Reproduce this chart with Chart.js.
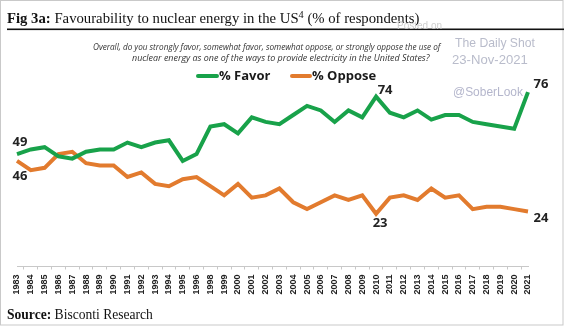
<!DOCTYPE html>
<html>
<head>
<meta charset="utf-8">
<script src="https://cdn.jsdelivr.net/npm/chart.js@4"></script>
<style>
  html, body { margin: 0; padding: 0; background: #fff; }
  canvas { display: block; }
</style>
</head>
<body>
<canvas id="chart" width="564" height="326"></canvas>
<script>
// Survey years (1997 is not in the series)
const years = ['1983', '1984', '1985', '1986', '1987', '1988', '1989', '1990', '1991', '1992',
  '1993', '1994', '1995', '1996', '1998', '1999', '2000', '2001', '2002', '2003', '2004',
  '2005', '2006', '2007', '2008', '2009', '2010', '2011', '2012', '2013', '2014', '2015',
  '2016', '2017', '2018', '2019', '2020', '2021'];

const favor = [49, 51, 52, 48, 47, 50, 51, 51, 54, 52, 54, 55, 46, 49, 61, 62, 58, 65, 63, 62,
  66, 70, 68, 63, 68, 65, 74, 67, 65, 68, 64, 66, 66, 63, 62, 61, 60, 76];

const oppose = [46, 42, 43, 49, 50, 45, 44, 44, 39, 41, 36, 35, 38, 39, 35, 31, 36, 30, 31, 34,
  28, 25, 28, 31, 29, 31, 23, 30, 31, 29, 34, 30, 31, 25, 26, 26, 25, 24];

// which points get a value label: [dataset, index, dx, dy]
const labelled = [
  [0, 0, 3, -12], [1, 0, 3, 15], [0, 26, 9, -6], [1, 26, 4, 10],
  [0, 37, 13, -8], [1, 37, 13, 7]
];

const GREEN = '#18A24A';
const ORANGE = '#E27B2E';

// draw text squeezed/stretched to a width by picking the font size
function fitText(ctx, parts, x, y, width, baseSize, family) {
  let total = 0;
  parts.forEach(p => {
    ctx.font = `${p.style || ''} ${p.weight || 'normal'} ${baseSize * (p.scale || 1)}px ${family}`;
    total += ctx.measureText(p.text).width;
  });
  const size = baseSize * width / total;
  let cx = x;
  parts.forEach(p => {
    ctx.font = `${p.style || ''} ${p.weight || 'normal'} ${size * (p.scale || 1)}px ${family}`;
    ctx.fillText(p.text, cx, y + (p.dy || 0) * size);
    cx += ctx.measureText(p.text).width;
  });
}

const decorations = {
  id: 'decorations',
  afterDraw(chart) {
    const ctx = chart.ctx;
    ctx.save();

    // frame
    ctx.strokeStyle = '#c9c9c9';
    ctx.lineWidth = 1;
    ctx.strokeRect(0.5, 0.5, 562.5, 324.5);

    // title + rule
    ctx.fillStyle = '#111';
    ctx.textBaseline = 'alphabetic';
    ctx.textAlign = 'left';
    fitText(ctx, [
      { text: 'Fig 3a:', weight: 'bold' },
      { text: ' Favourability to nuclear energy in the US' },
      { text: '4', scale: 0.7, dy: -0.35 },
      { text: ' (% of respondents)' }
    ], 7, 23, 413, 16, '"Liberation Serif", serif');
    ctx.fillRect(7, 28.5, 557, 1.6);

    // question text
    ctx.fillStyle = '#333';
    fitText(ctx, [{ text: 'Overall, do you strongly favor, somewhat favor, somewhat oppose, or strongly oppose the use of', style: 'italic' }],
      93, 50, 348, 8, '"Open Sans", sans-serif');
    fitText(ctx, [{ text: 'nuclear energy as one of the ways to provide electricity in the United States?', style: 'italic' }],
      132, 61, 298, 8, '"Open Sans", sans-serif');

    // legend
    ctx.lineWidth = 4;
    ctx.lineCap = 'round';
    [[198, 217, GREEN, '% Favor', 219], [292, 310, ORANGE, '% Oppose', 312]].forEach(([x0, x1, c, t, tx]) => {
      ctx.strokeStyle = c;
      ctx.beginPath();
      ctx.moveTo(x0, 76);
      ctx.lineTo(x1, 76);
      ctx.stroke();
      ctx.fillStyle = '#1a1a1a';
      ctx.font = 'bold 13px "Open Sans", sans-serif';
      ctx.textBaseline = 'middle';
      ctx.fillText(t, tx, 76);
    });

    // value labels at the chosen points
    ctx.font = 'bold 13px "Open Sans", sans-serif';
    ctx.fillStyle = '#222';
    ctx.textAlign = 'center';
    ctx.textBaseline = 'middle';
    labelled.forEach(([ds, i, dx, dy]) => {
      const pt = chart.getDatasetMeta(ds).data[i];
      const v = chart.data.datasets[ds].data[i];
      ctx.fillText(String(v), pt.x + dx, pt.y + dy);
    });

    // source
    ctx.textAlign = 'left';
    ctx.textBaseline = 'alphabetic';
    ctx.fillStyle = '#111';
    fitText(ctx, [
      { text: 'Source:', weight: 'bold' },
      { text: ' Bisconti Research' }
    ], 7, 319, 146, 13, '"Liberation Serif", serif');

    // watermark
    ctx.fillStyle = '#d0d0d0';
    ctx.font = '10px "Liberation Sans", sans-serif';
    ctx.fillText('Posted on', 397, 29);
    ctx.fillStyle = '#b9bccb';
    fitText(ctx, [{ text: 'The Daily Shot' }], 455, 47, 80, 13, '"Liberation Sans", sans-serif');
    fitText(ctx, [{ text: '23-Nov-2021' }], 452, 64, 76, 11, '"Liberation Sans", sans-serif');
    ctx.fillStyle = '#b4b6cc';
    fitText(ctx, [{ text: '@SoberLook' }], 453, 96, 70, 15, '"Liberation Sans", sans-serif');

    ctx.restore();
  }
};

new Chart(document.getElementById('chart').getContext('2d'), {
  type: 'line',
  data: {
    labels: years,
    datasets: [
      {
        label: '% Favor',
        data: favor,
        borderColor: GREEN,
        backgroundColor: GREEN,
        borderWidth: 4,
        pointRadius: 0,
        tension: 0
      },
      {
        label: '% Oppose',
        data: oppose,
        borderColor: ORANGE,
        backgroundColor: ORANGE,
        borderWidth: 4,
        pointRadius: 0,
        tension: 0
      }
    ]
  },
  options: {
    responsive: false,
    animation: false,
    devicePixelRatio: 1,
    layout: { padding: { left: 17, right: 36, top: 37, bottom: 26.5 } },
    plugins: {
      legend: { display: false },
      tooltip: { enabled: false }
    },
    scales: {
      x: {
        afterFit: s => { s.height = 33; },
        grid: {
          offset: true,
          drawOnChartArea: false,
          drawTicks: true,
          tickLength: 3,
          color: '#c8c8c8'
        },
        border: { color: '#c8c8c8' },
        ticks: {
          autoSkip: false,
          minRotation: 90,
          maxRotation: 90,
          padding: 5,
          color: '#222',
          font: { family: '"Liberation Sans", sans-serif', size: 9, weight: 'bold' }
        }
      },
      y: {
        display: false,
        min: 0,
        max: 100
      }
    }
  },
  plugins: [decorations]
});
</script>
</body>
</html>
